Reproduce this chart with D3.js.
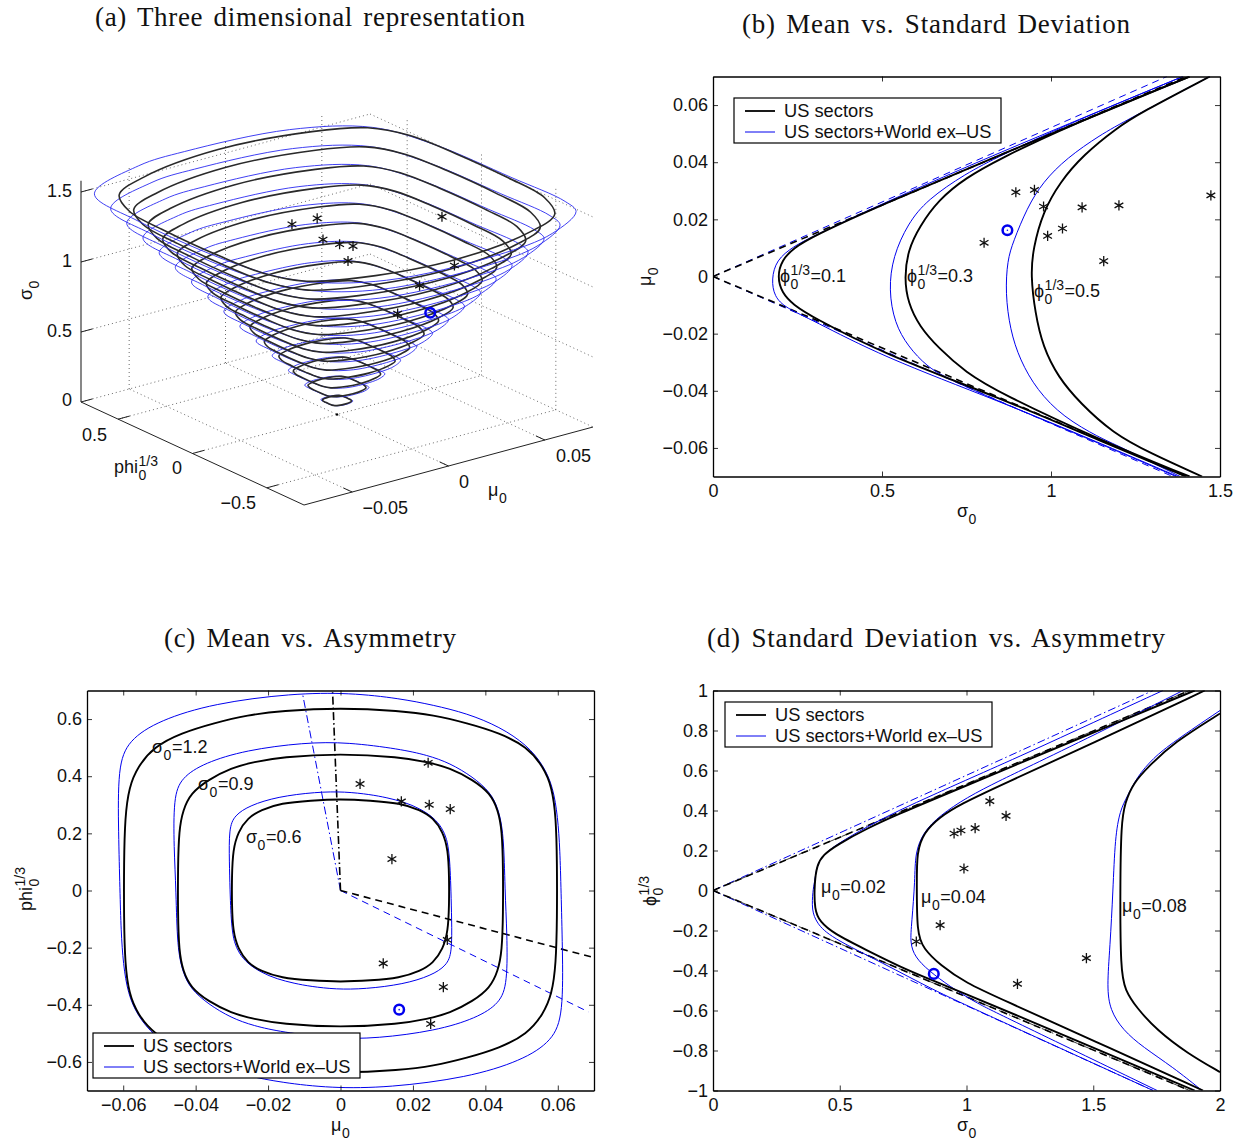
<!DOCTYPE html>
<html>
<head>
<meta charset="utf-8">
<script src="https://cdn.jsdelivr.net/npm/d3@7"></script>
<style>
html, body { margin: 0; padding: 0; background: #fff; }
text { font-family: "Liberation Sans", sans-serif; fill: #111; }
.title { font-family: "Liberation Serif", serif; font-size: 27px; word-spacing: 3px; }
.tick text { font-size: 18px; }
</style>
</head>
<body>
<svg width="1241" height="1140"></svg>
<script>
// asset points
var starSigma = [0.802, 0.896, 0.951, 0.978, 0.99, 1.034, 1.092, 1.156, 1.201, 1.473];
var starMu = [0.0118, 0.0295, 0.0303, 0.0245, 0.0142, 0.0168, 0.0242, 0.0054, 0.0249, 0.0284];
var starPhi = [-0.255, -0.173, 0.285, 0.30, 0.11, 0.312, 0.447, 0.373, -0.467, -0.338];
var circleSigma = 0.871, circleMu = 0.0162, circlePhi = -0.417;

// panel a: iso-sigma contours, [mu, phi] per level
var levels3d = [0.1, 0.2, 0.3, 0.4, 0.5, 0.6, 0.7, 0.8, 0.9, 1.0, 1.1, 1.2, 1.3, 1.4, 1.5];
var black3d = [
 [[0,.053],[.0029,.049],[.0043,.042],[.0049,.03],[.005,.012],[.005,-.012],[.0049,-.03],[.0043,-.042],[.0029,-.049],[0,-.053],[-.0029,-.049],[-.0043,-.042],[-.0049,-.03],[-.005,-.012],[-.005,.012],[-.0049,.03],[-.0043,.042],[-.0029,.049]],
 [[0,.107],[.0058,.098],[.0086,.084],[.0097,.06],[.01,.023],[.01,-.023],[.0097,-.06],[.0086,-.084],[.0058,-.098],[0,-.107],[-.0058,-.098],[-.0086,-.084],[-.0097,-.06],[-.01,-.023],[-.01,.023],[-.0097,.06],[-.0086,.084],[-.0058,.098]],
 [[0,.16],[.0087,.146],[.0129,.126],[.0146,.091],[.015,.035],[.015,-.035],[.0146,-.091],[.0129,-.126],[.0087,-.146],[0,-.16],[-.0087,-.146],[-.0129,-.126],[-.0146,-.091],[-.015,-.035],[-.015,.035],[-.0146,.091],[-.0129,.126],[-.0087,.146]],
 [[0,.213],[.0116,.195],[.0172,.168],[.0194,.121],[.02,.047],[.02,-.047],[.0194,-.121],[.0172,-.168],[.0116,-.195],[0,-.213],[-.0116,-.195],[-.0172,-.168],[-.0194,-.121],[-.02,-.047],[-.02,.047],[-.0194,.121],[-.0172,.168],[-.0116,.195]],
 [[0,.267],[.0145,.244],[.0215,.21],[.0243,.151],[.025,.059],[.025,-.059],[.0243,-.151],[.0215,-.21],[.0145,-.244],[0,-.267],[-.0145,-.244],[-.0215,-.21],[-.0243,-.151],[-.025,-.059],[-.025,.059],[-.0243,.151],[-.0215,.21],[-.0145,.244]],
 [[0,.32],[.0174,.293],[.0258,.251],[.0291,.181],[.03,.07],[.03,-.07],[.0291,-.181],[.0258,-.251],[.0174,-.293],[0,-.32],[-.0174,-.293],[-.0258,-.251],[-.0291,-.181],[-.03,-.07],[-.03,.07],[-.0291,.181],[-.0258,.251],[-.0174,.293]],
 [[0,.373],[.0203,.342],[.0301,.293],[.034,.211],[.035,.082],[.035,-.082],[.034,-.211],[.0301,-.293],[.0203,-.342],[0,-.373],[-.0203,-.342],[-.0301,-.293],[-.034,-.211],[-.035,-.082],[-.035,.082],[-.034,.211],[-.0301,.293],[-.0203,.342]],
 [[0,.426],[.0232,.39],[.0344,.335],[.0388,.242],[.04,.094],[.04,-.094],[.0388,-.242],[.0344,-.335],[.0232,-.39],[0,-.426],[-.0232,-.39],[-.0344,-.335],[-.0388,-.242],[-.04,-.094],[-.04,.094],[-.0388,.242],[-.0344,.335],[-.0232,.39]],
 [[0,.48],[.0261,.439],[.0387,.377],[.0437,.272],[.045,.105],[.045,-.105],[.0437,-.272],[.0387,-.377],[.0261,-.439],[0,-.48],[-.0261,-.439],[-.0387,-.377],[-.0437,-.272],[-.045,-.105],[-.045,.105],[-.0437,.272],[-.0387,.377],[-.0261,.439]],
 [[0,.533],[.029,.488],[.043,.419],[.0485,.302],[.05,.117],[.05,-.117],[.0485,-.302],[.043,-.419],[.029,-.488],[0,-.533],[-.029,-.488],[-.043,-.419],[-.0485,-.302],[-.05,-.117],[-.05,.117],[-.0485,.302],[-.043,.419],[-.029,.488]],
 [[0,.586],[.0319,.537],[.0473,.461],[.0534,.332],[.055,.129],[.055,-.129],[.0534,-.332],[.0473,-.461],[.0319,-.537],[0,-.586],[-.0319,-.537],[-.0473,-.461],[-.0534,-.332],[-.055,-.129],[-.055,.129],[-.0534,.332],[-.0473,.461],[-.0319,.537]],
 [[0,.64],[.0348,.586],[.0516,.503],[.0582,.362],[.06,.14],[.06,-.14],[.0582,-.362],[.0516,-.503],[.0348,-.586],[0,-.64],[-.0348,-.586],[-.0516,-.503],[-.0582,-.362],[-.06,-.14],[-.06,.14],[-.0582,.362],[-.0516,.503],[-.0348,.586]],
 [[0,.693],[.0377,.634],[.0559,.545],[.0631,.393],[.065,.152],[.065,-.152],[.0631,-.393],[.0559,-.545],[.0377,-.634],[0,-.693],[-.0377,-.634],[-.0559,-.545],[-.0631,-.393],[-.065,-.152],[-.065,.152],[-.0631,.393],[-.0559,.545],[-.0377,.634]],
 [[0,.746],[.0406,.683],[.0602,.587],[.0679,.423],[.07,.164],[.07,-.164],[.0679,-.423],[.0602,-.587],[.0406,-.683],[0,-.746],[-.0406,-.683],[-.0602,-.587],[-.0679,-.423],[-.07,-.164],[-.07,.164],[-.0679,.423],[-.0602,.587],[-.0406,.683]],
 [[0,.8],[.0435,.732],[.0645,.629],[.0728,.453],[.075,.176],[.075,-.176],[.0728,-.453],[.0645,-.629],[.0435,-.732],[0,-.8],[-.0435,-.732],[-.0645,-.629],[-.0728,-.453],[-.075,-.176],[-.075,.176],[-.0728,.453],[-.0645,.629],[-.0435,.732]]
];
var blue3d = [
 [[-.0008,.058],[.0025,.054],[.0044,.041],[.005,.021],[.0051,-.013],[.0051,-.036],[.0049,-.044],[.0033,-.053],[.0011,-.058],[-.0025,-.055],[-.0044,-.041],[-.005,-.02],[-.0051,.023],[-.0048,.047],[-.0025,.057]],
 [[-.0017,.115],[.005,.108],[.0088,.083],[.0099,.042],[.0102,-.025],[.0103,-.072],[.0098,-.088],[.0067,-.107],[.0022,-.115],[-.005,-.109],[-.0088,-.082],[-.01,-.041],[-.0103,.045],[-.0096,.093],[-.005,.113]],
 [[-.0025,.173],[.0075,.161],[.0133,.124],[.0149,.063],[.0153,-.038],[.0154,-.108],[.0147,-.132],[.01,-.16],[.0034,-.173],[-.0075,-.164],[-.0132,-.123],[-.015,-.061],[-.0154,.068],[-.0144,.14],[-.0075,.17]],
 [[-.0033,.231],[.01,.215],[.0177,.166],[.0198,.083],[.0203,-.05],[.0205,-.143],[.0195,-.175],[.0133,-.213],[.0045,-.23],[-.01,-.218],[-.0176,-.163],[-.02,-.082],[-.0205,.09],[-.0192,.187],[-.01,.226]],
 [[-.0042,.288],[.0125,.269],[.0221,.207],[.0248,.104],[.0254,-.063],[.0256,-.179],[.0244,-.219],[.0167,-.267],[.0056,-.288],[-.0125,-.273],[-.022,-.204],[-.025,-.102],[-.0256,.113],[-.024,.233],[-.0125,.283]],
 [[-.005,.346],[.015,.323],[.0265,.249],[.0298,.125],[.0305,-.075],[.0308,-.215],[.0293,-.263],[.02,-.32],[.0067,-.345],[-.015,-.328],[-.0264,-.245],[-.03,-.123],[-.0308,.135],[-.0288,.28],[-.015,.339]],
 [[-.0058,.404],[.0175,.376],[.0309,.29],[.0347,.146],[.0356,-.088],[.0359,-.251],[.0342,-.307],[.0233,-.373],[.0078,-.403],[-.0175,-.382],[-.0307,-.286],[-.035,-.143],[-.0359,.158],[-.0335,.327],[-.0175,.395]],
 [[-.0067,.461],[.02,.43],[.0353,.331],[.0397,.167],[.0407,-.1],[.041,-.287],[.0391,-.351],[.0267,-.427],[.0089,-.46],[-.02,-.437],[-.0351,-.327],[-.04,-.163],[-.041,.18],[-.0383,.373],[-.02,.452]],
 [[-.0075,.519],[.0225,.484],[.0398,.373],[.0446,.188],[.0458,-.113],[.0461,-.323],[.044,-.395],[.03,-.48],[.0101,-.518],[-.0225,-.491],[-.0395,-.368],[-.045,-.184],[-.0461,.203],[-.0431,.42],[-.0225,.509]],
 [[-.0083,.577],[.025,.538],[.0442,.414],[.0496,.208],[.0508,-.125],[.0513,-.358],[.0488,-.438],[.0333,-.533],[.0112,-.575],[-.025,-.546],[-.0439,-.408],[-.05,-.204],[-.0513,.225],[-.0479,.467],[-.025,.565]],
 [[-.0092,.634],[.0275,.591],[.0486,.456],[.0545,.229],[.0559,-.138],[.0564,-.394],[.0537,-.482],[.0367,-.587],[.0123,-.633],[-.0275,-.6],[-.0483,-.449],[-.055,-.225],[-.0564,.248],[-.0527,.513],[-.0275,.622]],
 [[-.01,.692],[.03,.645],[.053,.497],[.0595,.25],[.061,-.15],[.0615,-.43],[.0586,-.526],[.04,-.64],[.0134,-.69],[-.03,-.655],[-.0527,-.49],[-.06,-.245],[-.0615,.27],[-.0575,.56],[-.03,.678]],
 [[-.0108,.75],[.0325,.699],[.0574,.538],[.0645,.271],[.0661,-.163],[.0666,-.466],[.0635,-.57],[.0433,-.693],[.0145,-.748],[-.0325,-.71],[-.0571,-.531],[-.065,-.265],[-.0666,.293],[-.0623,.607],[-.0325,.735]],
 [[-.0117,.807],[.035,.753],[.0618,.58],[.0694,.292],[.0712,-.175],[.0718,-.502],[.0684,-.614],[.0467,-.747],[.0156,-.805],[-.035,-.764],[-.0615,-.572],[-.07,-.286],[-.0718,.315],[-.0671,.653],[-.035,.791]],
 [[-.0125,.865],[.0375,.806],[.0663,.621],[.0744,.313],[.0763,-.188],[.0769,-.538],[.0733,-.658],[.05,-.8],[.0168,-.863],[-.0375,-.819],[-.0659,-.613],[-.075,-.306],[-.0769,.338],[-.0719,.7],[-.0375,.848]]
];

// panel b: [sigma, mu]
var bBlack = [
 [[1.4,-.07],[1.145,-.0575],[.849,-.0425],[.5,-.0268],[.294,-.0142],[.238,-.0099],[.204,-.0058],[.19,0],[.204,.0058],[.238,.0099],[.294,.014],[.5,.0252],[.849,.0425],[1.41,.07]],
 [[1.41,-.07],[1.15,-.0575],[.849,-.0408],[.747,-.0335],[.667,-.025],[.611,-.0175],[.577,-.0093],[.566,-.0005],[.577,.0093],[.611,.0175],[.667,.0268],[.747,.0345],[.849,.0412],[1.047,.0525],[1.41,.07]],
 [[1.447,-.07],[1.293,-.0618],[1.183,-.0548],[1.086,-.0443],[1.021,-.0352],[.976,-.0246],[.953,-.0127],[.94,.0005],[.947,.0098],[.976,.0226],[1.027,.0331],[1.095,.0425],[1.195,.052],[1.263,.0572],[1.47,.07]]
];
var bBlue = [
 [[1.375,-.07],[1.145,-.0583],[.849,-.0437],[.5,-.028],[.294,-.0152],[.215,-.011],[.181,-.007],[.173,-.001],[.187,.0058],[.238,.0105],[.294,.014],[.5,.0255],[.849,.0435],[1.39,.07]],
 [[1.37,-.07],[1.145,-.0585],[.849,-.0439],[.69,-.0355],[.633,-.0315],[.577,-.0245],[.537,-.0163],[.52,-.0047],[.532,.007],[.577,.0186],[.633,.0268],[.747,.036],[.849,.0422],[1.047,.0532],[1.39,.07]],
 [[1.382,-.07],[1.195,-.059],[1.145,-.0565],[1.036,-.0492],[.958,-.0397],[.908,-.0292],[.879,-.0187],[.865,-.0058],[.871,.0058],[.888,.0121],[.929,.024],[.976,.0331],[1.047,.0415],[1.145,.0495],[1.225,.0548],[1.47,.07]]
];
var bDashBlack = [[[0,0],[1.4,.07]], [[0,0],[1.4,-.07]]];
var bDashBlue = [[[0,0],[1.343,.07]], [[0,0],[1.36,-.07]]];

// panel c: [mu, phi], closed loops
var cBlack = [
 [[0,.32],[.0082,.315],[.0164,.306],[.022,.282],[.0256,.254],[.0283,.205],[.0297,.142],[.03,.05],[.03,-.05],[.0297,-.142],[.0283,-.205],[.0256,-.254],[.022,-.282],[.0164,-.306],[.0082,-.315],[0,-.32],[-.0082,-.315],[-.0164,-.306],[-.022,-.282],[-.0256,-.254],[-.0283,-.205],[-.0297,-.142],[-.03,-.05],[-.03,.05],[-.0297,.142],[-.0283,.205],[-.0256,.254],[-.022,.282],[-.0164,.306],[-.0082,.315]],
 [[0,.48],[.0164,.467],[.0239,.45],[.0302,.429],[.0366,.387],[.0413,.341],[.0435,.282],[.0446,.212],[.0449,.08],[.0449,-.08],[.0446,-.212],[.0435,-.282],[.0413,-.341],[.0366,-.387],[.0302,-.429],[.0239,-.45],[.0164,-.467],[0,-.48],[-.0164,-.467],[-.0239,-.45],[-.0302,-.429],[-.0366,-.387],[-.0413,-.341],[-.0435,-.282],[-.0446,-.212],[-.0449,-.08],[-.0449,.08],[-.0446,.212],[-.0435,.282],[-.0413,.341],[-.0366,.387],[-.0302,.429],[-.0239,.45],[-.0164,.467]],
 [[0,.64],[.0164,.629],[.0256,.614],[.0349,.586],[.044,.551],[.0515,.503],[.056,.433],[.0584,.362],[.0595,.257],[.0598,.1],[.0598,-.1],[.0595,-.257],[.0584,-.362],[.056,-.433],[.0515,-.503],[.044,-.551],[.0349,-.586],[.0256,-.614],[.0164,-.629],[0,-.64],[-.0164,-.629],[-.0256,-.614],[-.0349,-.586],[-.044,-.551],[-.0515,-.503],[-.056,-.433],[-.0584,-.362],[-.0595,-.257],[-.0598,-.1],[-.0598,.1],[-.0595,.257],[-.0584,.362],[-.056,.433],[-.0515,.503],[-.044,.551],[-.0349,.586],[-.0256,.614],[-.0164,.629]]
];
var cBlue = [
 [[.0013,.346],[.0082,.336],[.0128,.325],[.0175,.31],[.022,.2865],[.0258,.2545],[.028,.22],[.0294,.181],[.03,.129],[.0303,.071],[.0305,0],[.0307,-.1],[.0308,-.217],[.0293,-.263],[.025,-.298],[.0175,-.328],[.0067,-.345],[-.0013,-.346],[-.0082,-.336],[-.0128,-.325],[-.0175,-.31],[-.022,-.2865],[-.0258,-.2545],[-.028,-.22],[-.0294,-.181],[-.03,-.129],[-.0303,-.071],[-.0305,0],[-.0307,.1],[-.0308,.217],[-.0293,.263],[-.025,.298],[-.0175,.328],[-.0067,.345]],
 [[.002,.519],[.0164,.495],[.0239,.474],[.0302,.446],[.0366,.397],[.0413,.345],[.0435,.29],[.0451,.2],[.0454,0],[.046,-.15],[.0461,-.325],[.044,-.395],[.0375,-.447],[.0263,-.491],[.01,-.518],[-.002,-.519],[-.0164,-.495],[-.0239,-.474],[-.0302,-.446],[-.0366,-.397],[-.0413,-.345],[-.0435,-.29],[-.0451,-.2],[-.0454,0],[-.046,.15],[-.0461,.325],[-.044,.395],[-.0375,.447],[-.0263,.491],[-.01,.518]],
 [[.0027,.692],[.0164,.672],[.0256,.649],[.0349,.62],[.044,.573],[.0515,.509],[.056,.439],[.0587,.362],[.06,.257],[.0606,.142],[.0609,0],[.0613,-.2],[.0615,-.433],[.0586,-.526],[.05,-.596],[.035,-.655],[.0134,-.69],[-.0027,-.692],[-.0164,-.672],[-.0256,-.649],[-.0349,-.62],[-.044,-.573],[-.0515,-.509],[-.056,-.439],[-.0587,-.362],[-.06,-.257],[-.0606,-.142],[-.0609,0],[-.0613,.2],[-.0615,.433],[-.0586,.526],[-.05,.596],[-.035,.655],[-.0134,.69]]
];
var cDashDotBlack = [[0,0],[-.0022,.7]];
var cDashBlack = [[0,0],[.07,-.235]];
var cDashDotBlue = [[0,0],[-.0105,.69]];
var cDashBlue = [[0,0],[.0685,-.425]];

// panel d: [sigma, phi]
var dBlack = [
 [[1.9,-1],[1.132,-.588],[1,-.52],[.869,-.451],[.737,-.381],[.606,-.298],[.474,-.214],[.422,-.156],[.4,-.098],[.4,.037],[.41,.127],[.434,.178],[.489,.228],[.606,.31],[.737,.385],[.868,.455],[1,.525],[1.132,.595],[1.5,.79],[1.9,1]],
 [[1.933,-1],[1.5,-.75],[1.132,-.54],[1,-.464],[.895,-.372],[.83,-.29],[.804,-.214],[.804,.052],[.804,.188],[.83,.288],[.895,.368],[.974,.43],[1.132,.525],[1.5,.737],[1.94,1]],
 [[2,-.908],[1.87,-.813],[1.751,-.698],[1.672,-.588],[1.625,-.498],[1.608,-.398],[1.606,0],[1.61,.337],[1.625,.437],[1.657,.537],[1.724,.627],[1.815,.737],[2,.885]]
];
var dBlue = [
 [[1.736,-1],[1.132,-.651],[1.04,-.597],[.868,-.497],[.671,-.363],[.461,-.232],[.409,-.163],[.389,-.098],[.394,0],[.4,.037],[.41,.127],[.434,.178],[.489,.232],[.606,.318],[.737,.403],[.868,.478],[1,.553],[1.239,.687],[1.5,.84],[1.775,1]],
 [[1.752,-1],[1.132,-.62],[1.04,-.563],[.935,-.481],[.848,-.398],[.797,-.333],[.777,-.263],[.784,-.163],[.797,.052],[.797,.188],[.83,.293],[.895,.375],[1,.465],[1.132,.55],[1.239,.615],[1.5,.775],[1.854,1]],
 [[1.929,-1],[1.814,-.883],[1.696,-.783],[1.617,-.698],[1.566,-.598],[1.554,-.483],[1.566,-.283],[1.578,0],[1.586,.267],[1.606,.402],[1.633,.467],[1.672,.567],[1.736,.662],[1.815,.742],[2,.9]]
];
var dDashBlack = [[[0,0],[1.88,1]], [[0,0],[1.88,-1]]];
var dDashBlue = [[[0,0],[1.736,1]], [[0,0],[1.736,-1]]];

var legendLabels = ["US sectors", "US sectors+World ex\u2013US"];
var bXTicks = [0, 0.5, 1, 1.5], bXLabels = ["0", "0.5", "1", "1.5"];
var bYTicks = [-0.06, -0.04, -0.02, 0, 0.02, 0.04, 0.06];
var bYLabels = ["\u22120.06", "\u22120.04", "\u22120.02", "0", "0.02", "0.04", "0.06"];
var cYTicks = [-0.6, -0.4, -0.2, 0, 0.2, 0.4, 0.6];
var cYLabels = ["\u22120.6", "\u22120.4", "\u22120.2", "0", "0.2", "0.4", "0.6"];
var dXTicks = [0, 0.5, 1, 1.5, 2], dXLabels = ["0", "0.5", "1", "1.5", "2"];
var dYTicks = [-1, -0.8, -0.6, -0.4, -0.2, 0, 0.2, 0.4, 0.6, 0.8, 1];
var dYLabels = ["\u22121", "\u22120.8", "\u22120.6", "\u22120.4", "\u22120.2", "0", "0.2", "0.4", "0.6", "0.8", "1"];

var BLACK = "#000", BLUE = "#0000ee";
var svg = d3.select("svg");
var DASH = "7,5", DASHDOT = "8,3,1.5,3";

function mathLabel(parent, x, y, base, sub, sup, rest, rotate) {
    var g = parent.append("g").attr("transform", "translate(" + x + "," + y + ")" + (rotate ? " rotate(-90)" : ""));
    var t = g.append("text").attr("font-size", 18).text(base);
    var w = t.node().getComputedTextLength() + 0.5;
    var s1 = g.append("text").attr("x", w).attr("y", 7).attr("font-size", 14).text(sub);
    var w2 = s1.node().getComputedTextLength();
    if (sup) {
        var s2 = g.append("text").attr("x", w).attr("y", -7).attr("font-size", 14).text(sup);
        w2 = Math.max(w2, s2.node().getComputedTextLength());
    }
    if (rest) g.append("text").attr("x", w + w2 + 0.5).attr("font-size", 18).text(rest);
}

function addTitle(x, y, width, label) {
    svg.append("text").attr("class", "title").attr("x", x).attr("y", y)
        .attr("textLength", width).attr("lengthAdjust", "spacing").text(label);
}

function makePanel(id, left, top, xDomain, yDomain, xTicks, xLabels, yTicks, yLabels) {
    var width = 507, height = 400;
    var g = svg.append("g").attr("transform", "translate(" + left + "," + top + ")");
    var x = d3.scaleLinear().domain(xDomain).range([0, width]);
    var y = d3.scaleLinear().domain(yDomain).range([height, 0]);
    g.append("clipPath").attr("id", id).append("rect").attr("width", width).attr("height", height);
    var plot = g.append("g").attr("clip-path", "url(#" + id + ")");

    function style(a) {
        a.selectAll(".domain").attr("stroke-width", 1.3);
        a.selectAll(".tick line").attr("stroke-width", 0.8);
    }
    g.append("g").attr("transform", "translate(0," + height + ")")
        .call(d3.axisBottom(x).tickValues(xTicks).tickSizeInner(-5).tickSizeOuter(0).tickPadding(8)
            .tickFormat(function (d, i) { return xLabels[i]; })).call(style);
    g.append("g")
        .call(d3.axisTop(x).tickValues(xTicks).tickSizeInner(-5).tickSizeOuter(0).tickFormat("")).call(style);
    g.append("g")
        .call(d3.axisLeft(y).tickValues(yTicks).tickSizeInner(-5).tickSizeOuter(0).tickPadding(5)
            .tickFormat(function (d, i) { return yLabels[i]; })).call(style);
    g.append("g").attr("transform", "translate(" + width + ",0)")
        .call(d3.axisRight(y).tickValues(yTicks).tickSizeInner(-5).tickSizeOuter(0).tickFormat("")).call(style);
    g.selectAll(".tick text").attr("fill", "#111");
    return {plot: plot, x: x, y: y};
}

function drawCurves(panel, curves, color, widthPx, closed) {
    var line = d3.line()
        .x(function (d) { return panel.x(d[0]); })
        .y(function (d) { return panel.y(d[1]); })
        .curve(closed ? d3.curveBasisClosed : d3.curveBasis);
    panel.plot.append("g").selectAll("path").data(curves).enter().append("path")
        .attr("d", line).attr("fill", "none").attr("stroke", color).attr("stroke-width", widthPx);
}

function drawDash(panel, segs, color, widthPx, pattern) {
    var line = d3.line().x(function (d) { return panel.x(d[0]); }).y(function (d) { return panel.y(d[1]); });
    panel.plot.append("g").selectAll("path").data(segs).enter().append("path")
        .attr("d", line).attr("fill", "none").attr("stroke", color)
        .attr("stroke-width", widthPx).attr("stroke-dasharray", pattern);
}

var star = d3.symbol().type(d3.symbolAsterisk).size(72);

function drawStars(parent, xs, ys) {
    parent.append("g").selectAll("path").data(xs).enter().append("path")
        .attr("d", star)
        .attr("transform", function (d, i) { return "translate(" + d + "," + ys[i] + ")"; })
        .attr("fill", "none").attr("stroke", "#111").attr("stroke-width", 1.3);
}

function drawCircle(parent, cx, cy, dot) {
    parent.append("circle").attr("cx", cx).attr("cy", cy).attr("r", 4.8)
        .attr("fill", "none").attr("stroke", BLUE).attr("stroke-width", 2.5);
    if (dot) parent.append("circle").attr("cx", cx).attr("cy", cy).attr("r", 0.8).attr("fill", BLUE);
}

function drawLegend(x, y) {
    var g = svg.append("g").attr("transform", "translate(" + x + "," + y + ")");
    g.append("rect").attr("width", 267).attr("height", 45).attr("fill", "#fff")
        .attr("stroke", "#000").attr("stroke-width", 1.2);
    var rows = g.selectAll("g").data(legendLabels).enter().append("g")
        .attr("transform", function (d, i) { return "translate(0," + (13 + i * 21) + ")"; });
    rows.append("line").attr("x1", 11).attr("x2", 41)
        .attr("stroke", function (d, i) { return i ? BLUE : BLACK; })
        .attr("stroke-width", function (d, i) { return i ? 1 : 1.8; });
    rows.append("text").attr("x", 50).attr("y", 6).attr("font-size", 18.3)
        .text(function (d) { return d; });
}

/* ------- panel a ------- */
var muX = d3.scaleLinear().domain([-0.075, 0.075]).range([-144.5, 144.5]);
var muY = d3.scaleLinear().domain([-0.075, 0.075]).range([39, -39]);
var phiX = d3.scaleLinear().domain([-0.75, 0.75]).range([111.5, -111.5]);
var phiY = d3.scaleLinear().domain([-0.75, 0.75]).range([51.5, -51.5]);
var sigmaY = d3.scaleLinear().domain([0, 1.5]).range([0, -210]);
function px(mu, phi) { return 337 + muX(mu) + phiX(phi); }
function py(mu, phi, sigma) { return 414.5 + muY(mu) + phiY(phi) + sigmaY(sigma); }

var a = svg.append("g");
var muMin = -0.075, muMax = 0.075, phiMin = -0.75, phiMax = 0.75, sigmaTop = 1.58;
var muTicks3d = [-0.05, 0, 0.05], phiTicks3d = [-0.5, 0, 0.5], sigmaTicks3d = [0, 0.5, 1, 1.5];

function seg3(parent, p, q, color, w, dash) {
    parent.append("line")
        .attr("x1", px(p[0], p[1])).attr("y1", py(p[0], p[1], p[2]))
        .attr("x2", px(q[0], q[1])).attr("y2", py(q[0], q[1], q[2]))
        .attr("stroke", color).attr("stroke-width", w).attr("stroke-dasharray", dash || null);
}
var grid = a.append("g");
muTicks3d.forEach(function (m) {
    seg3(grid, [m, phiMin, 0], [m, phiMax, 0], "#444", 0.8, "1,3");
    seg3(grid, [m, phiMax, 0], [m, phiMax, sigmaTop], "#444", 0.8, "1,3");
});
phiTicks3d.forEach(function (p) {
    seg3(grid, [muMin, p, 0], [muMax, p, 0], "#444", 0.8, "1,3");
    seg3(grid, [muMax, p, 0], [muMax, p, sigmaTop], "#444", 0.8, "1,3");
});
sigmaTicks3d.forEach(function (s) {
    seg3(grid, [muMin, phiMax, s], [muMax, phiMax, s], "#444", 0.8, "1,3");
    seg3(grid, [muMax, phiMax, s], [muMax, phiMin, s], "#444", 0.8, "1,3");
});
seg3(a, [muMin, phiMax, 0], [muMin, phiMin, 0], "#222", 1);
seg3(a, [muMin, phiMin, 0], [muMax, phiMin, 0], "#222", 1);
seg3(a, [muMin, phiMax, 0], [muMin, phiMax, sigmaTop], "#555", 1.4);
muTicks3d.forEach(function (m) { seg3(a, [m, phiMin, 0], [m, phiMin + 0.06, 0], "#222", 1); });
phiTicks3d.forEach(function (p) { seg3(a, [muMin, p, 0], [muMin + 0.006, p, 0], "#222", 1); });
sigmaTicks3d.forEach(function (s) { seg3(a, [muMin, phiMax, s], [muMin + 0.006, phiMax, s], "#222", 1); });

var loop3d = d3.line().curve(d3.curveCatmullRomClosed.alpha(0.5));
function project(points, sigma) {
    return points.map(function (d) { return [px(d[0], d[1]), py(d[0], d[1], sigma)]; });
}
levels3d.forEach(function (s, i) {
    a.append("path").attr("d", loop3d(project(blue3d[i], s))).attr("fill", "none")
        .attr("stroke", "#2a2af0").attr("stroke-width", 0.9);
    a.append("path").attr("d", loop3d(project(black3d[i], s))).attr("fill", "none")
        .attr("stroke", "#2a2a2a").attr("stroke-width", 1.6);
});
drawStars(a, starMu.map(function (m, i) { return px(m, starPhi[i]); }),
    starMu.map(function (m, i) { return py(m, starPhi[i], starSigma[i]); }));
drawCircle(a, px(circleMu, circlePhi), py(circleMu, circlePhi, circleSigma), false);
a.append("circle").attr("cx", px(0, 0)).attr("cy", py(0, 0, 0)).attr("r", 1.2).attr("fill", "#000");

function tickText(x, y, label) {
    a.append("text").attr("x", x).attr("y", y).attr("text-anchor", "end").attr("font-size", 18).text(label);
}
tickText(72, 197, "1.5"); tickText(72, 267, "1"); tickText(72, 337, "0.5"); tickText(72, 406, "0");
tickText(107, 441, "0.5"); tickText(182, 474, "0"); tickText(256, 509, "\u22120.5");
tickText(408, 514, "\u22120.05"); tickText(469, 488, "0"); tickText(591, 462, "0.05");
mathLabel(a, 32, 300, "\u03c3", "0", null, null, true);
mathLabel(a, 114, 473, "phi", "0", "1/3", null, false);
mathLabel(a, 488, 496, "\u03bc", "0", null, null, false);

/* ------- panel b ------- */
var pb = makePanel("clipb", 713, 76.5, [0, 1.5], [-0.07, 0.07], bXTicks, bXLabels, bYTicks, bYLabels);
drawDash(pb, bDashBlue, BLUE, 1, DASH);
drawDash(pb, bDashBlack, BLACK, 1.6, DASH);
drawCurves(pb, bBlue, BLUE, 1);
drawCurves(pb, bBlack, BLACK, 1.9);
drawStars(pb.plot, starSigma.map(function (d) { return pb.x(d); }), starMu.map(function (d) { return pb.y(d); }));
drawCircle(pb.plot, pb.x(circleSigma), pb.y(circleMu), true);
mathLabel(svg, 780, 282, "\u03d5", "0", "1/3", "=0.1");
mathLabel(svg, 907, 282, "\u03d5", "0", "1/3", "=0.3");
mathLabel(svg, 1034, 297, "\u03d5", "0", "1/3", "=0.5");
mathLabel(svg, 957, 517, "\u03c3", "0", null, null);
mathLabel(svg, 651, 286, "\u03bc", "0", null, null, true);
drawLegend(734, 98);

/* ------- panel c ------- */
var pc = makePanel("clipc", 87, 690.5, [-0.07, 0.07], [-0.7, 0.7], bYTicks, bYLabels, cYTicks, cYLabels);
drawDash(pc, [cDashBlue], BLUE, 1, DASH);
drawDash(pc, [cDashDotBlue], BLUE, 1, DASHDOT);
drawDash(pc, [cDashBlack], BLACK, 1.6, DASH);
drawDash(pc, [cDashDotBlack], BLACK, 1.6, DASHDOT);
drawCurves(pc, cBlue, BLUE, 1, true);
drawCurves(pc, cBlack, BLACK, 1.9, true);
drawStars(pc.plot, starMu.map(function (d) { return pc.x(d); }), starPhi.map(function (d) { return pc.y(d); }));
drawCircle(pc.plot, pc.x(circleMu), pc.y(circlePhi), true);
mathLabel(svg, 152, 753, "\u03c3", "0", null, "=1.2");
mathLabel(svg, 198, 790, "\u03c3", "0", null, "=0.9");
mathLabel(svg, 246, 843, "\u03c3", "0", null, "=0.6");
mathLabel(svg, 331, 1131, "\u03bc", "0", null, null);
mathLabel(svg, 32, 911, "phi", "0", "1/3", null, true);
drawLegend(93, 1033);

/* ------- panel d ------- */
var pd = makePanel("clipd", 713, 690.5, [0, 2], [-1, 1], dXTicks, dXLabels, dYTicks, dYLabels);
drawDash(pd, dDashBlue, BLUE, 1, DASHDOT);
drawDash(pd, dDashBlack, BLACK, 0.8, DASHDOT);
drawDash(pd, dDashBlack, BLACK, 1.6, DASH);
drawCurves(pd, dBlue, BLUE, 1);
drawCurves(pd, dBlack, BLACK, 1.9);
drawStars(pd.plot, starSigma.map(function (d) { return pd.x(d); }), starPhi.map(function (d) { return pd.y(d); }));
drawCircle(pd.plot, pd.x(circleSigma), pd.y(circlePhi), false);
mathLabel(svg, 821, 893, "\u03bc", "0", null, "=0.02");
mathLabel(svg, 921, 903, "\u03bc", "0", null, "=0.04");
mathLabel(svg, 1122, 912, "\u03bc", "0", null, "=0.08");
mathLabel(svg, 957, 1131, "\u03c3", "0", null, null);
mathLabel(svg, 656, 906, "\u03d5", "0", "1/3", null, true);
drawLegend(725, 702);

addTitle(95, 26, 430, "(a) Three dimensional representation");
addTitle(742, 33, 388, "(b) Mean vs. Standard Deviation");
addTitle(164, 647, 292, "(c) Mean vs. Asymmetry");
addTitle(707, 647, 458, "(d) Standard Deviation vs. Asymmetry");
</script>
</body>
</html>
